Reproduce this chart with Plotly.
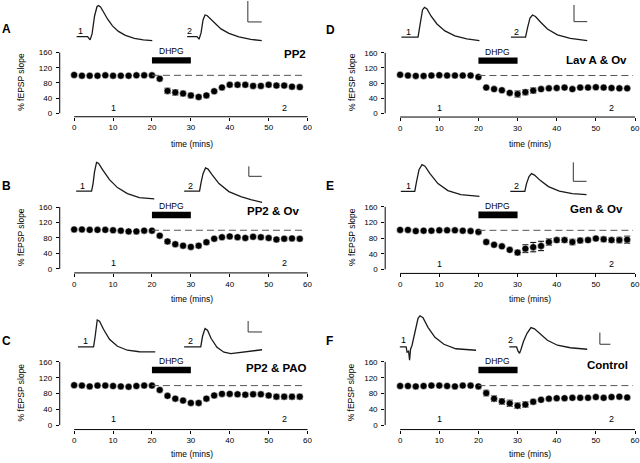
import plotly.graph_objects as go

W, H = 640, 463

# ---------------- data ----------------
time_min = list(range(0, 60, 2))
x_ticks = [0, 10, 20, 30, 40, 50, 60]
y_ticks = [0, 40, 80, 120, 160]

A_mean = [101, 99, 99, 99, 100, 99, 99, 99, 100, 100, 100, 91, 59, 55, 52, 47, 43, 47, 58, 68,
          75, 75, 75, 72, 72, 75, 73, 73, 70, 69]
A_se = [2, 2, 2, 2, 2, 2, 2, 2, 2, 2, 2, 3, 7, 7, 6, 6, 5, 5, 4, 3, 5, 5, 5, 5, 5, 5, 5, 5, 5, 5]

B_mean = [102, 102, 101, 101, 101, 100, 99, 97, 97, 99, 99, 86, 71, 64, 60, 57, 60, 69, 78, 82,
          84, 82, 80, 83, 82, 80, 76, 78, 79, 78]
B_se = [2, 2, 2, 2, 2, 2, 2, 2, 2, 2, 2, 4, 5, 5, 5, 4, 5, 5, 4, 4, 4, 4, 4, 5, 5, 5, 5, 5, 5, 5]

C_mean = [101, 100, 98, 100, 100, 99, 98, 97, 99, 100, 100, 89, 74, 67, 62, 56, 56, 67, 75, 79,
          79, 78, 77, 78, 78, 75, 72, 72, 72, 72]
C_se = [2, 2, 2, 2, 2, 2, 2, 2, 2, 2, 2, 3, 4, 4, 4, 4, 5, 5, 5, 4, 4, 4, 5, 5, 5, 5, 6, 6, 6, 6]

D_mean = [102, 100, 99, 99, 100, 101, 100, 100, 100, 100, 96, 68, 64, 61, 54, 51, 56, 60, 64, 66,
          67, 68, 64, 68, 68, 69, 68, 67, 66, 66]
D_se = [1, 1, 1, 1, 1, 1, 1, 1, 1, 1, 1, 2, 2, 2, 3, 8, 7, 7, 5, 3, 2, 2, 2, 2, 2, 2, 2, 2, 2, 2]

E_mean = [101, 101, 98, 99, 99, 100, 100, 100, 99, 98, 96, 70, 63, 59, 50, 43, 53, 57, 60, 70,
          75, 75, 70, 74, 75, 79, 77, 75, 75, 76]
E_se = [2, 2, 2, 2, 2, 2, 2, 2, 2, 2, 3, 5, 3, 3, 4, 6, 10, 12, 12, 8, 6, 6, 7, 6, 6, 5, 6, 6, 7, 9]

F_mean = [99, 99, 98, 99, 100, 100, 99, 98, 100, 100, 98, 81, 67, 60, 55, 49, 52, 59, 64, 67,
          68, 68, 69, 69, 69, 71, 69, 71, 72, 70]
F_se = [2, 2, 2, 2, 2, 2, 2, 2, 2, 2, 2, 7, 7, 7, 8, 7, 7, 6, 4, 3, 2, 2, 2, 2, 2, 2, 2, 2, 2, 2]

conditions = ["PP2", "PP2 & Ov", "PP2 & PAO", "Lav A & Ov", "Gen & Ov", "Control"]
panel_letters = ["A", "B", "C", "D", "E", "F"]

# example fEPSP waveforms (time units / amplitude units relative to baseline)
A1_t = [0, 11, 13.5, 15.5, 18, 20.5, 22, 24, 27, 31, 36, 42, 49, 58, 67, 76]
A1_v = [0, 0, -3.3, 2.7, 20.7, 30.2, 31.2, 29.7, 24.7, 17.7, 10.7, 5.2, 1.2, -1.8, -3.3, -4]
A2_t = [0, 10, 12, 14, 16, 18, 20, 23, 28, 34, 42, 52, 64, 75]
A2_v = [0, 0, -2.6, 3.7, 16.7, 21.7, 21.2, 18.2, 12.7, 7.7, 3.2, -0.3, -2.8, -4]
B1_t = [0, 15.5, 17, 18.5, 20.5, 22.5, 26.5, 33.5, 41.5, 51.5, 63.5, 78.5]
B1_v = [0, 0, 7.5, 19.5, 28.8, 28, 21.5, 11.5, 3.5, -2.5, -6.5, -7.8]
B2_t = [0, 15.5, 17, 19, 21.5, 24, 28, 35, 45, 57, 67, 78.3]
B2_v = [0, 0, 8.5, 17.5, 23.2, 22, 16.5, 7.5, -0.5, -5.5, -8.5, -11.2]
C1_t = [0, 15.7, 17.2, 19.4, 21.7, 25.7, 31.7, 39.7, 49.7, 61.7, 77.7]
C1_v = [0, 0, 9.7, 27, 25.7, 17.7, 7.7, 0.7, -3.3, -4.8, -5]
C2_t = [0, 16.7, 18.5, 21, 23.5, 27, 33, 40, 47, 60, 78.3]
C2_v = [0, 0, 10.7, 18.4, 16.7, 8.7, -0.3, -5.3, -6.6, -5.3, -2.8]
D1_t = [0, 16.7, 18.7, 21.2, 23.2, 25.7, 29.7, 35.7, 43.7, 53.7, 65.7, 78.4]
D1_v = [0, 0, 12.3, 27.3, 30, 28.3, 21.3, 13.3, 6.3, 1.3, -1.7, -3.4]
D2_t = [0, 14.7, 16.7, 19.2, 21.7, 24.7, 29.7, 36.7, 46.7, 59.7, 76.7]
D2_v = [0, 0, 9.3, 19.3, 22.3, 20.8, 15.3, 8.3, 2.3, -1.2, -3.4]
E1_t = [0, 14, 15.8, 18.3, 21.3, 24.3, 29.3, 37.3, 47.3, 60.3, 79]
E1_v = [0, 0, 9.7, 21.7, 26.7, 25.2, 17.7, 7.7, 0.7, -3.3, -5]
E2_t = [0, 14.6, 16.3, 18.8, 21.3, 24.3, 30.3, 38.3, 49.3, 62.3, 76.6]
E2_v = [0, 0, 7.7, 14.7, 17.7, 16.2, 10.7, 4.7, 0.2, -2.3, -3.3]
F1_t = [0, 6.3, 7.3, 8.8, 9.8, 10.8, 12.3, 15.3, 18.3, 20.3, 23.3, 28.3, 35.3, 44.3, 56.3, 76.6]
F1_v = [0, 0, -5.3, -4.3, -13.3, -2.3, 1.7, 15.7, 28.7, 31.2, 29.2, 19.7, 9.7, 2.7, -1.8, -3.3]
F2_t = [0, 7.3, 8.8, 10.3, 11.8, 14.3, 17.8, 21.8, 25.3, 30.3, 38.3, 48.3, 61.3, 78.3]
F2_v = [0, 0, -4.3, -6.3, -2.3, 5.7, 13.7, 19.4, 18.2, 13.7, 6.7, 1.7, -0.8, -2.3]

means = [A_mean, B_mean, C_mean, D_mean, E_mean, F_mean]
ses = [A_se, B_se, C_se, D_se, E_se, F_se]
waves = [((A1_t, A1_v), (A2_t, A2_v)), ((B1_t, B1_v), (B2_t, B2_v)), ((C1_t, C1_v), (C2_t, C2_v)),
         ((D1_t, D1_v), (D2_t, D2_v)), ((E1_t, E1_v), (E2_t, E2_v)), ((F1_t, F1_v), (F2_t, F2_v))]

# ---------------- layout geometry (pixels) ----------------
FONT = "Arial, Liberation Sans, Helvetica, sans-serif"
cols = [dict(x0=74.5, x60=309.0, xa=60.0, ytitle_x=21.5, xtitle_x=193.0, letter_x=0.5),
        dict(x0=402.0, x60=638.0, xa=387.0, ytitle_x=353.0, xtitle_x=532.0, letter_x=326.0)]
rows_geo = [
    [dict(y160=52.7, y0=113.5, xl=117.0, xt=144.5, ly=29.0),
     dict(y160=207.5, y0=269.5, xl=273.5, xt=299.5, ly=186.0),
     dict(y160=362.7, y0=426.0, xl=430.5, xt=454.5, ly=341.7)],
    [dict(y160=53.0, y0=113.5, xl=117.3, xt=144.5, ly=30.0),
     dict(y160=207.3, y0=270.0, xl=274.0, xt=299.5, ly=186.0),
     dict(y160=362.7, y0=426.0, xl=430.5, xt=454.5, ly=341.7)],
]
cond_y = [156, 151, 144, 140, 155, 152]
cond_right_px = [309.0, 302.0, 310.0, 632.0, 628.0, 633.0]
trace_starts = [((77, 36.7), (188, 36.7)), ((76.5, 191.5), (185, 191.5)), ((78.3, 347.7), (185, 347.7)),
                ((403.3, 37.3), (513.3, 37.3)), ((402.7, 191.7), (512.7, 191.7)), ((401.7, 347.7), (511.7, 347.7))]
trace_labels = [((80.7, 31.5), (190.7, 31.5)), ((82.7, 186.7), (191.7, 186.7)), ((86, 342.0), (191.7, 342.0)),
                ((410, 31.8), (519.3, 31.8)), ((410.7, 186.8), (519.3, 186.8)), ((405, 340.5), (512.7, 341.0))]
scale_bars = [(249, 1, 22, 263), (250, 166.7, 176.7, 263), (249.3, 321.7, 332.7, 263.3),
              (576.7, 5, 21.7, 590), (576, 162.7, 181.7, 589.3), (602.7, 333.3, 345, 613.3)]


def pxx(x):
    return x / W


def pxy(y):
    return 1 - y / H


def ann(**kw):
    d = dict(showarrow=False, xanchor="center", yanchor="middle")
    d.update(kw)
    return d


fig = go.Figure()
shapes = []
annotations = []

for i in range(6):
    n = i + 1
    sfx = "" if n == 1 else str(n)
    xref, yref = f"x{sfx}", f"y{sfx}"
    c = 0 if i < 3 else 1
    r = i % 3
    col = cols[c]
    g = rows_geo[c][r]
    sx = (col["x60"] - col["x0"]) / 60.0
    sy = (g["y0"] - g["y160"]) / 160.0
    right_px = min(col["x60"] + 3, W - 0.5)
    top_px = g["y160"] - 20
    xr = [(col["xa"] - col["x0"]) / sx, (right_px - col["x0"]) / sx]
    yr = [-(g["xl"] - g["y0"]) / sy, 160 + (g["y160"] - top_px) / sy]

    axis_common = dict(showgrid=False, zeroline=False, showline=False, ticks="outside", ticklen=3,
                       tickwidth=1, tickcolor="black", tickfont=dict(family=FONT, size=8, color="black"),
                       fixedrange=True, ticklabeloverflow="allow")
    fig.update_layout(**{
        f"xaxis{sfx}": dict(domain=[pxx(col["xa"]), pxx(right_px)], range=xr, tickvals=x_ticks,
                            anchor=yref, **axis_common),
        f"yaxis{sfx}": dict(domain=[pxy(g["xl"]), pxy(top_px)], range=yr, tickvals=y_ticks,
                            anchor=xref, ticklabelstandoff=2, **axis_common),
    })

    shapes.append(dict(type="line", xref=f"{xref} domain", yref=yref, x0=0, x1=0, y0=0, y1=160,
                       line=dict(color="black", width=1)))
    shapes.append(dict(type="line", xref=xref, yref=f"{yref} domain", x0=0, x1=60, y0=0, y1=0,
                       line=dict(color="black", width=1)))
    shapes.append(dict(type="line", xref=xref, yref=yref, x0=20, x1=59.5, y0=100, y1=100,
                       line=dict(color="#555555", width=1, dash="7px,4px")))
    shapes.append(dict(type="rect", xref=xref, yref=yref, x0=20, x1=30, y0=131, y1=148,
                       fillcolor="black", line=dict(color="black", width=0)))
    annotations.append(ann(text="DHPG", xref=xref, yref=yref, x=25, y=163,
                           font=dict(family=FONT, size=8.5, color="black")))
    annotations.append(ann(text="1", xref=xref, yref=yref, x=10, y=15,
                           font=dict(family=FONT, size=9, color="black")))
    annotations.append(ann(text="2", xref=xref, yref=yref, x=54, y=15,
                           font=dict(family=FONT, size=9, color="black")))
    annotations.append(ann(text=f"<b>{conditions[i]}</b>", xref="paper", yref=yref,
                           x=pxx(cond_right_px[i]), y=cond_y[i], xanchor="right",
                           font=dict(family=FONT, size=11.5, color="black")))
    annotations.append(ann(text=f"<b>{panel_letters[i]}</b>", xref="paper", yref="paper",
                           x=pxx(col["letter_x"]), y=pxy(g["ly"]), xanchor="left",
                           font=dict(family=FONT, size=12, color="black")))
    annotations.append(ann(text="time (mins)", xref="paper", yref="paper", x=pxx(col["xtitle_x"]),
                           y=pxy(g["xt"]), font=dict(family=FONT, size=8.5, color="black")))
    annotations.append(ann(text="% fEPSP slope", xref="paper", yref="paper", x=pxx(col["ytitle_x"]),
                           y=pxy((g["y160"] + g["y0"]) / 2 - 1.5), textangle=-90,
                           font=dict(family=FONT, size=8.5, color="black")))

    fig.add_trace(go.Scatter(
        x=time_min, y=means[i], mode="markers", xaxis=xref, yaxis=yref, cliponaxis=False,
        marker=dict(size=7, color="black", line=dict(color="white", width=0.5)),
        error_y=dict(type="data", array=ses[i], color="black", thickness=1, width=3),
        showlegend=False, hoverinfo="x+y"))

    for k in range(2):
        (sxp, syp) = trace_starts[i][k]
        tt, vv = waves[i][k]
        fig.add_trace(go.Scatter(x=[sxp + t for t in tt], y=[syp - v for v in vv], mode="lines",
                                 xaxis="x7", yaxis="y7", line=dict(color="#1a1a1a", width=1.3),
                                 showlegend=False, hoverinfo="skip"))
        lx, ly = trace_labels[i][k]
        annotations.append(ann(text=str(k + 1), xref="x7", yref="y7", x=lx, y=ly,
                               font=dict(family=FONT, size=9, color="black")))
    bx, bt, bb, br = scale_bars[i]
    shapes.append(dict(type="line", xref="x7", yref="y7", x0=bx, x1=bx, y0=bt, y1=bb,
                       line=dict(color="#333333", width=1)))
    shapes.append(dict(type="line", xref="x7", yref="y7", x0=bx, x1=br, y0=bb, y1=bb,
                       line=dict(color="#333333", width=1)))

fig.update_layout(
    xaxis7=dict(domain=[0, 1], range=[0, W], visible=False, anchor="y7", fixedrange=True),
    yaxis7=dict(domain=[0, 1], range=[H, 0], visible=False, anchor="x7", fixedrange=True),
    width=W, height=H, margin=dict(l=0, r=0, t=0, b=0),
    paper_bgcolor="white", plot_bgcolor="rgba(0,0,0,0)",
    shapes=shapes, annotations=annotations, showlegend=False,
)

fig.write_html("out.html", config={"displayModeBar": False},
               post_script="document.body.style.margin='0';document.body.style.overflow='hidden';")
